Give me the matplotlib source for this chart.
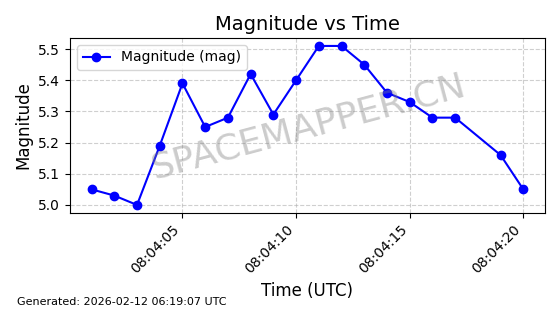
import matplotlib
matplotlib.use("Agg")
import matplotlib.pyplot as plt
import matplotlib.dates as mdates
import pandas as pd

# data
seconds = [1, 2, 3, 4, 5, 6, 7, 8, 9, 10, 11, 12, 13, 14, 15, 16, 17, 19, 20]
magnitude = [5.05, 5.03, 5.00, 5.19, 5.39, 5.25, 5.28, 5.42, 5.29, 5.40,
             5.51, 5.51, 5.45, 5.36, 5.33, 5.28, 5.28, 5.16, 5.05]

times = [pd.Timestamp("2026-02-12 08:04:00") + pd.Timedelta(seconds=s) for s in seconds]

fig, ax = plt.subplots(figsize=(5.6, 3.14), dpi=100)
fig.subplots_adjust(left=0.125, right=0.973, top=0.879, bottom=0.322)

ax.plot(times, magnitude, "o-", color="blue", label="Magnitude (mag)")

ax.set_title("Magnitude vs Time", fontsize=14)
ax.set_xlabel("Time (UTC)", fontsize=12)
ax.set_ylabel("Magnitude", fontsize=12)
ax.grid(True, linestyle="--", alpha=0.6)
ax.legend(loc="upper left")

ax.xaxis.set_major_locator(mdates.SecondLocator(bysecond=range(0, 60, 5)))
ax.xaxis.set_major_formatter(mdates.DateFormatter("%H:%M:%S"))
plt.setp(ax.get_xticklabels(), rotation=45, ha="right")

# watermark
fig.text(0.55, 0.595, "SPACEMAPPER.CN", fontsize=26, color="gray", alpha=0.4,
         rotation=15, ha="center", va="center")

fig.text(0.03, 0.03, "Generated: 2026-02-12 06:19:07 UTC", fontsize=8)

fig.savefig("out.png", dpi=100)
